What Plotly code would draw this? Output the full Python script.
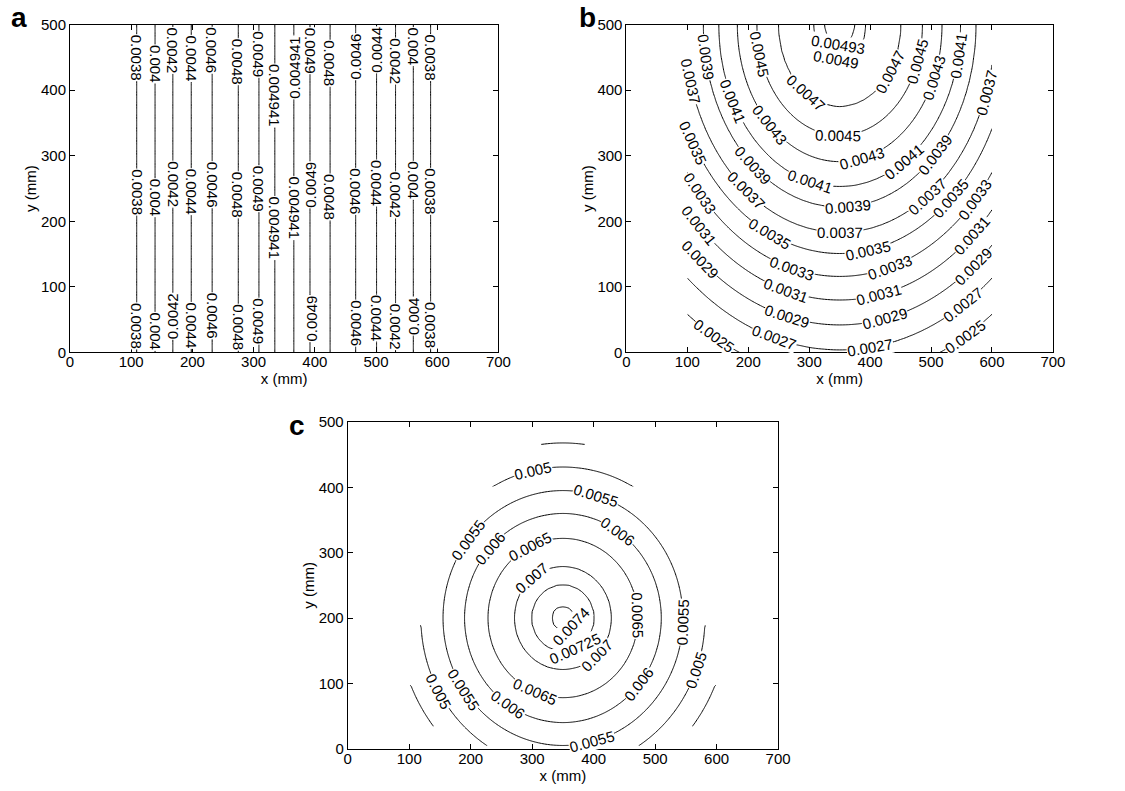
import math
import numpy as np
import plotly.graph_objects as go

FONT = "Liberation Sans, Arial, Helvetica, sans-serif"

# ---------------- data ----------------
# panel a : contour levels and where each vertical contour line sits (mm)
a_levels = [0.0038, 0.004, 0.0042, 0.0044, 0.0046, 0.0048, 0.0049, 0.004941]
a_x_left = [109, 139, 168, 198, 232, 275, 308, 334]
a_x_right = [589, 561, 532, 501, 467, 425, 393, 367]
a_peak = (350, 0.004948)          # x of maximum, maximum value
a_edge = (0.00374, 0.00374)       # value at x=100 and x=600
# panel a labels: level index, side (0 left / 1 right), y (mm), reads upward
a_lab_level = [0, 0, 0, 1, 1, 1, 2, 2, 2, 3, 3, 3, 4, 4, 4, 5, 5, 5, 6, 6, 6, 7, 7,
               7, 7, 6, 6, 6, 5, 5, 4, 4, 4, 3, 3, 3, 2, 2, 2, 1, 1, 1, 0, 0, 0]
a_lab_side = [0] * 23 + [1] * 22
a_lab_y = [450, 245, 41, 440, 236, 32, 461, 257, 55, 448, 245, 41, 461, 256, 56,
           443, 240, 38, 454, 249, 47, 392, 190,
           435, 220, 461, 255, 51, 441, 237, 451, 246, 45, 461, 259, 53, 445, 241, 40,
           466, 262, 56, 449, 245, 41]
a_lab_up = [0, 0, 0, 0, 0, 0, 0, 0, 1, 0, 0, 0, 0, 0, 0, 0, 0, 0, 0, 0, 0, 0, 0,
            1, 0, 0, 1, 1, 0, 0, 1, 0, 0, 1, 0, 0, 0, 0, 0, 0, 0, 1, 0, 0, 0]

# panel b : levels and semi-axis (mm, along y) of each elliptic contour
b_levels = [0.0025, 0.0027, 0.0029, 0.0031, 0.0033, 0.0035, 0.0037,
            0.0039, 0.0041, 0.0043, 0.0045, 0.0047, 0.0049, 0.00493]
b_radius = [540, 496, 458, 420, 384, 349, 317, 278, 247, 209, 169, 125, 54, 31]
b_peak = 0.004948
b_center = (350, 500)
b_aspect = 0.804                   # x semi-axis / y semi-axis
b_far = (620, 0.00222)
# panel b labels: level index and x (mm) of the label centre
b_lab_level = [12, 13, 11, 11, 10, 10, 10, 9, 9, 9, 8, 8, 8, 8, 7, 7, 7, 7,
               6, 6, 6, 6, 6, 5, 5, 5, 5, 4, 4, 4, 4, 3, 3, 3, 3, 2, 2, 2, 2,
               1, 1, 1, 0, 0]
b_lab_x = [344, 347, 294, 432, 219, 348, 478, 235, 386, 505, 175, 302, 456, 545,
           130, 208, 364, 507, 105, 197, 351, 494, 591, 110, 235, 397, 532,
           121, 272, 432, 572, 119, 262, 415, 567, 121, 264, 424, 569,
           243, 399, 553, 143, 556]

# panel c : levels and radius (mm) of each circular contour
c_levels = [0.0045, 0.005, 0.0055, 0.006, 0.0065, 0.007, 0.00725, 0.0074]
c_radius = [268, 231, 195, 160, 122, 79, 51, 18]
c_peak = 0.00744
c_center = (350, 200)
c_far = (420, 0.0022)
# region without data: gap directions (deg) and boundary radius vs angular offset
c_gap_dirs = [30, 150, 270]
c_gap_offset = [0, 15, 30, 42, 52, 56, 60]
c_gap_radius = [205, 213, 231, 247, 268, 320, 900]
# panel c labels: level index and polar angle (deg) of the label centre
c_lab_level = [1, 1, 1, 2, 2, 2, 2, 2, 3, 3, 3, 3, 4, 4, 4, 5, 5, 6, 7]
c_lab_angle = [102, 209, 340, 74, 142, 358, 214, 284, 138, 56, 321, 236,
               116, 2, 248, 129, 314, 293, 315]

# grid of the data domain
gx = np.arange(100, 601, 5, dtype=float)
gy = np.arange(0, 501, 5, dtype=float)
X, Y = np.meshgrid(gx, gy)

# ---------------- fields ----------------
ax_pts = [100] + a_x_left + [a_peak[0]] + a_x_right[::-1] + [600]
az_pts = [a_edge[0]] + a_levels + [a_peak[1]] + a_levels[::-1] + [a_edge[1]]
za = np.interp(X, ax_pts, az_pts)

Rb = np.sqrt(((X - b_center[0]) / b_aspect) ** 2 + (Y - b_center[1]) ** 2)
br = [0] + b_radius[::-1] + [b_far[0]]
bz = [b_peak] + b_levels[::-1] + [b_far[1]]
zb = np.interp(Rb, br, bz)

Rc = np.hypot(X - c_center[0], Y - c_center[1])
cr = [0] + c_radius[::-1] + [c_far[0]]
cz = [c_peak] + c_levels[::-1] + [c_far[1]]
zc = np.interp(Rc, cr, cz)
ang = np.degrees(np.arctan2(Y - c_center[1], X - c_center[0])) % 360
off = np.min([np.abs(((ang - g) + 180) % 360 - 180) for g in c_gap_dirs], axis=0)
rb = np.interp(off, c_gap_offset, c_gap_radius)
zc = np.where(Rc > rb, np.nan, zc)

za = np.round(za, 9)
zb = np.round(zb, 9)
zc = np.round(zc, 9)

fig = go.Figure()


def add_level(z, level, xa, ya):
    fig.add_trace(go.Contour(
        x=gx, y=gy, z=z, xaxis=xa, yaxis=ya,
        autocontour=False, connectgaps=False,
        contours=dict(start=level, end=level, size=1.0,
                      coloring="none", showlabels=False),
        line=dict(color="black", width=1, smoothing=0),
        showscale=False, hoverinfo="skip", showlegend=False))


for lv in a_levels:
    add_level(za, lv, "x", "y")
for lv in b_levels:
    add_level(zb, lv, "x2", "y2")
for lv in c_levels:
    add_level(zc, lv, "x3", "y3")

W, H = 1125, 791
px_a = dict(x=(67, 502), y=(16, 351))
px_b = dict(x=(632, 1065), y=(16, 351))
px_c = dict(x=(349, 786), y=(422, 756))


def dom(p):
    return [p["x"][0] / W, p["x"][1] / W], [1 - p["y"][1] / H, 1 - p["y"][0] / H]


def axis(rng, d, anchor, title, xaxis):
    ax = dict(range=rng, domain=d, anchor=anchor, dtick=100, ticks="inside",
              ticklen=5, tickwidth=1, tickcolor="black", mirror="ticks",
              showline=True, linecolor="black", linewidth=1, showgrid=False,
              zeroline=False, tickfont=dict(size=15, color="black", family=FONT),
              title=dict(text=title, font=dict(size=15, color="black", family=FONT),
                         standoff=0))
    if xaxis:
        ax["ticklabelstandoff"] = -4
    return ax


lay = dict(width=W, height=H, margin=dict(l=0, r=0, t=0, b=0),
           paper_bgcolor="white", plot_bgcolor="white",
           font=dict(family=FONT, size=15, color="black"))
for k, p, s in [("", px_a, ""), ("2", px_b, "2"), ("3", px_c, "3")]:
    dx, dy = dom(p)
    lay["xaxis" + k] = axis([0, 700], dx, "y" + s, "x (mm)", True)
    lay["yaxis" + k] = axis([0, 500], dy, "x" + s, "y (mm)", False)
fig.update_layout(**lay)


def label(text, x, y, angle, xr, yr):
    fig.add_annotation(text=text, xref=xr, yref=yr, x=x, y=y, textangle=angle,
                       showarrow=False, bgcolor="white", borderpad=0,
                       font=dict(size=15, color="black", family=FONT))


def screen_angle(tx, ty, p):
    # tangent (data units) -> plotly textangle (deg, clockwise), kept readable
    sx = (p["x"][1] - p["x"][0]) / 700.0
    sy = (p["y"][1] - p["y"][0]) / 500.0
    th = math.degrees(math.atan2(ty * sy, tx * sx))
    while th >= 90:
        th -= 180
    while th < -90:
        th += 180
    return -th


# panel a labels
for li, side, yv, up in zip(a_lab_level, a_lab_side, a_lab_y, a_lab_up):
    xv = (a_x_right if side else a_x_left)[li]
    label("%g" % a_levels[li], xv, yv, -90 if up else 90, "x", "y")

# panel b labels (on the elliptic contour of that level)
for li, xv in zip(b_lab_level, b_lab_x):
    R = b_radius[li]
    u = (xv - b_center[0]) / b_aspect
    s = math.sqrt(max(R * R - u * u, 1e-6))
    yv = b_center[1] - s
    slope = (u / b_aspect) / s
    label("%g" % b_levels[li], xv, yv, screen_angle(1.0, slope, px_b), "x2", "y2")

# panel c labels (on the circular contour of that level)
for li, phi in zip(c_lab_level, c_lab_angle):
    R = c_radius[li]
    t = math.radians(phi)
    xv = c_center[0] + R * math.cos(t)
    yv = c_center[1] + R * math.sin(t)
    label("%g" % c_levels[li], xv, yv,
          screen_angle(-math.sin(t), math.cos(t), px_c), "x3", "y3")

letters = [("a", 5, 27), ("b", 582, 27), ("c", 287, 444)]
for t, px, py in letters:
    fig.add_annotation(text="<b>%s</b>" % t, xref="paper", yref="paper",
                       x=px / W, y=1 - py / H, xanchor="left", yanchor="bottom",
                       showarrow=False, font=dict(size=28, color="black", family=FONT))

fig.write_html("out.html")
